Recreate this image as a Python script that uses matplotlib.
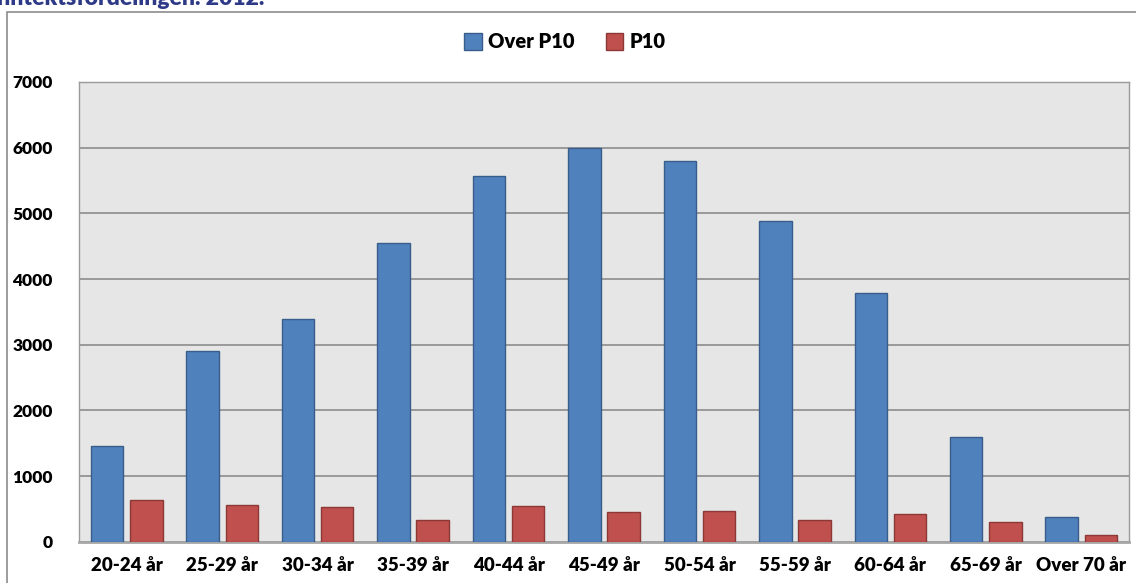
import numpy as np
import matplotlib.pyplot as plt
from matplotlib.patches import Rectangle

# data
categories = ["20-24 år", "25-29 år", "30-34 år", "35-39 år", "40-44 år", "45-49 år",
              "50-54 år", "55-59 år", "60-64 år", "65-69 år", "Over 70 år"]
over_p10 = [1460, 2900, 3390, 4545, 5570, 5990, 5790, 4890, 3790, 1590, 380]
p10 = [635, 560, 525, 335, 540, 453, 468, 326, 422, 293, 106]
series_names = ["Over P10", "P10"]
yticks = [0, 1000, 2000, 3000, 4000, 5000, 6000, 7000]
title = "Inntektsfordelingen. 2012."

plt.rcParams['font.family'] = ['Lato', 'DejaVu Sans']
W, H = 1136, 583
FW = 'heavy'

fig = plt.figure(figsize=(W / 100, H / 100), dpi=100)
fig.patch.set_facecolor('white')

# outer chart frame (runs off the right and bottom edges)
fig.patches.append(Rectangle((7 / W, -0.1), 1.2, (H - 12) / H + 0.1,
                             transform=fig.transFigure, fill=False,
                             edgecolor='#8C8C8C', linewidth=1.2))

# title, only its lower part shows at the top edge
fig.text(264 / W, 1 - 5 / H, title, ha='right', va='baseline',
         fontsize=16.5, fontweight=FW, color='#2E3A87')

ax = fig.add_axes([79 / W, (H - 541.7) / H, (1129 - 79) / W, (541.7 - 82) / H])
ax.set_facecolor('#E6E6E6')

x = np.arange(len(categories))
bw = 0.34
ax.bar(x - 0.205, over_p10, bw, color='#4F81BD', edgecolor='#385D8A',
       linewidth=1, label=series_names[0], zorder=3)
ax.bar(x + 0.205, p10, bw, color='#C0504D', edgecolor='#8C3836',
       linewidth=1, label=series_names[1], zorder=3)

ax.set_xlim(-0.5, len(categories) - 0.5)
ax.set_ylim(0, 7000)
ax.set_yticks(yticks)
ax.set_yticklabels([str(v) for v in yticks])
ax.set_xticks(x)
ax.set_xticklabels(categories)
ax.tick_params(axis='both', length=0, colors='black')
ax.tick_params(axis='x', labelsize=13.5, pad=11)
ax.tick_params(axis='y', labelsize=12.5, pad=19)
for lab in ax.get_xticklabels() + ax.get_yticklabels():
    lab.set_fontweight(FW)

ax.yaxis.grid(True, color='#8C8C8C', linewidth=1.2, zorder=1)
ax.set_axisbelow(True)
for side in ['top', 'right', 'left']:
    ax.spines[side].set_color('#9A9A9A')
    ax.spines[side].set_linewidth(1)
ax.spines['bottom'].set_color('#A6A6A6')
ax.spines['bottom'].set_linewidth(2)

leg = fig.legend(loc='center', bbox_to_anchor=(565 / W, 1 - 42 / H), ncol=2,
                 frameon=False, fontsize=14.5, handlelength=0.85, handleheight=0.85,
                 handletextpad=0.3, columnspacing=1.6)
for t in leg.get_texts():
    t.set_fontweight(FW)

fig.savefig('out.png', dpi=100)
